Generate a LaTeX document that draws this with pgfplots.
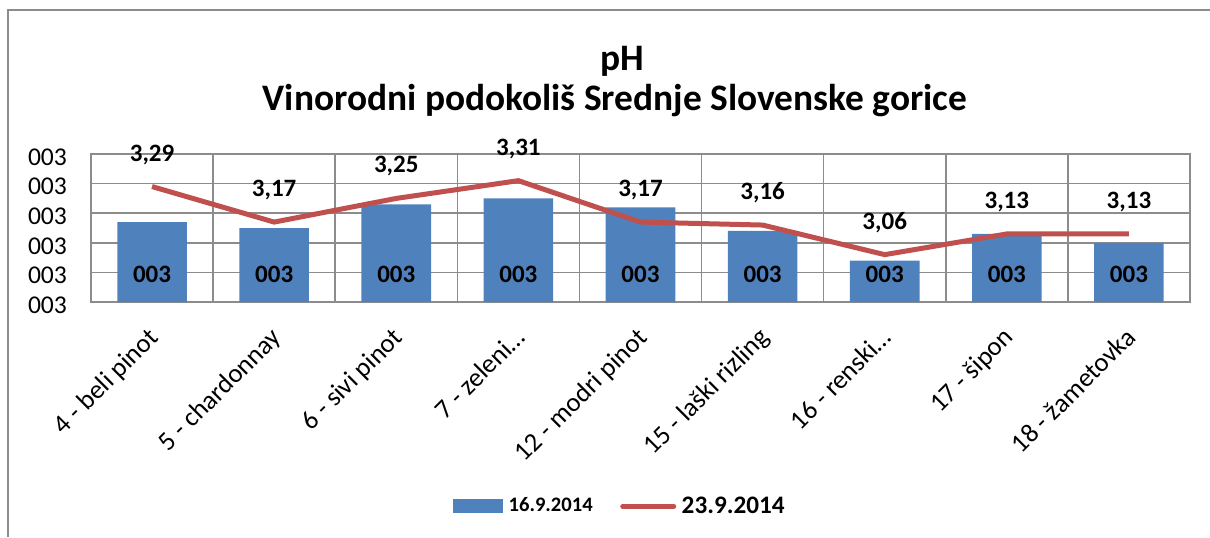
\documentclass[border=0pt]{standalone}
\usepackage{pgfplots}
\pgfplotsset{compat=1.18}
\usepackage{fontspec}
\setmainfont{Carlito}
\definecolor{barblue}{HTML}{4F81BD}
\definecolor{linered}{HTML}{C0504D}
\definecolor{gridgray}{HTML}{8C8C8C}
\begin{document}
\begin{tikzpicture}
\useasboundingbox (0,0) rectangle (605pt,268.5pt);
\draw[gridgray, line width=1pt] (4pt,0) -- (4pt,263.5pt) -- (605pt,263.5pt);
\node[font=\fontsize{18.7}{22}\selectfont\bfseries] at (311pt,238pt) {pH};
\node[font=\fontsize{18.7}{22}\selectfont\bfseries] at (307.5pt,218pt) {Vinorodni podokoliš Srednje Slovenske gorice};
\begin{axis}[
 at={(45.5pt,117.5pt)}, anchor=south west,
 scale only axis, width=549.5pt, height=74pt,
 xmin=-0.5, xmax=8.5, ymin=2.9, ymax=3.4,
 ytick={2.9,3.0,3.1,3.2,3.3,3.4},
 yticklabels={003,003,003,003,003,003},
 xtick={0,...,8},
 xticklabels={4 - beli pinot, 5 - chardonnay, 6 - sivi pinot, 7 - zeleni\ldots, 12 - modri pinot, 15 - laški rizling, 16 - renski\ldots, 17 - šipon, 18 - žametovka},
 minor xtick={0.5,1.5,...,7.5},
 xminorgrids, ymajorgrids,
 grid style={gridgray, line width=0.75pt},
 minor grid style={gridgray, line width=0.75pt},
 axis line style={gridgray, line width=0.75pt},
 major tick length=0pt, minor tick length=0pt,
 xticklabel style={yshift=-7pt, xshift=-2.5pt, rotate=45, anchor=north east, font=\fontsize{13.3}{15}\selectfont},
 yticklabel style={font=\fontsize{12.8}{14}\selectfont, xshift=-8.5pt, yshift=-1.5pt},
 legend style={at={(0.481,-1.38)}, anchor=center, legend columns=2, draw=none, fill=none,
   nodes={inner sep=1pt},
   /tikz/every even column/.style={column sep=12.75pt}},
 clip=false,
]
\addplot[ybar, bar width=0.57, fill=barblue, draw=none,
  legend image code/.code={\fill[barblue] (0pt,-3.5pt) rectangle (25pt,3.5pt);}]
 coordinates {(0,3.17) (1,3.15) (2,3.23) (3,3.25) (4,3.22) (5,3.14) (6,3.04) (7,3.13) (8,3.10)};
\addlegendentry{\hspace*{2pt}\fontsize{10.3}{12}\selectfont\bfseries 16.9.2014}
\addplot[draw=none, mark=none, forget plot,
  nodes near coords={\fontsize{12.5}{14}\selectfont\bfseries 003},
  every node near coord/.append style={anchor=center}]
 coordinates {(0,2.993) (1,2.993) (2,2.993) (3,2.993) (4,2.993) (5,2.993) (6,2.993) (7,2.993) (8,2.993)};
\addplot[linered, line width=2.5pt, line join=round, mark=none,
  point meta=explicit symbolic,
  nodes near coords={\fontsize{12.5}{14}\selectfont\bfseries\pgfplotspointmeta},
  every node near coord/.append style={anchor=center, yshift=16pt, text=black},
  legend image code/.code={\draw[linered, line width=2.5pt, line cap=round] (0pt,0pt) -- (25.5pt,0pt);}]
 coordinates {(0,3.29) [3,29] (1,3.17) [3,17] (2,3.25) [3,25] (3,3.31) [3,31] (4,3.17) [3,17] (5,3.16) [3,16] (6,3.06) [3,06] (7,3.13) [3,13] (8,3.13) [3,13]};
\addlegendentry{\hspace*{1.75pt}\fontsize{12.6}{14}\selectfont\bfseries 23.9.2014}
\end{axis}
\end{tikzpicture}
\end{document}
